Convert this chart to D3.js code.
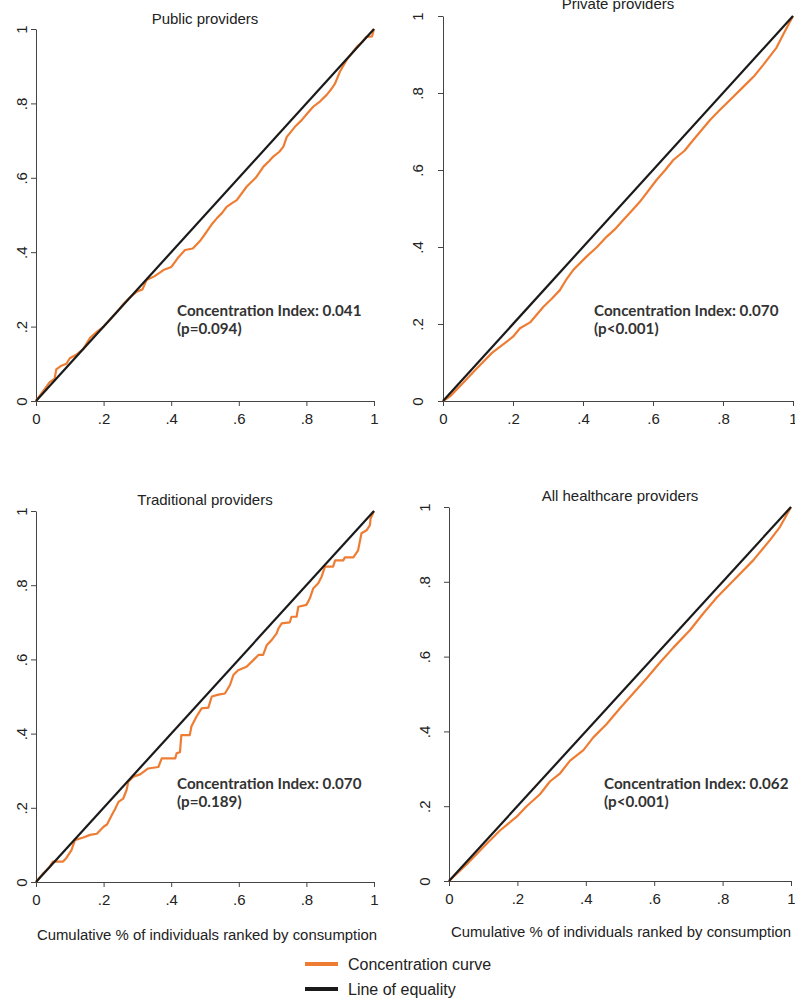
<!DOCTYPE html>
<html>
<head>
<meta charset="utf-8">
<script src="https://cdn.jsdelivr.net/npm/d3@7"></script>
<style>
  html, body { margin: 0; padding: 0; background: #fff; }
  svg { display: block; }
</style>
</head>
<body>
<svg id="chart" width="795" height="1000"></svg>
<script>
// ---------------- DATA ----------------
const panelTitles = ["Public providers", "Private providers", "Traditional providers", "All healthcare providers"];
const ciLabels = ["Concentration Index: 0.041", "Concentration Index: 0.070", "Concentration Index: 0.070", "Concentration Index: 0.062"];
const pLabels = ["(p=0.094)", "(p<0.001)", "(p=0.189)", "(p<0.001)"];
const tickValues = [0, 0.2, 0.4, 0.6, 0.8, 1];
const tickLabels = ["0", ".2", ".4", ".6", ".8", "1"];
const xAxisTitle = "Cumulative % of individuals ranked by consumption";
const legendLabels = ["Concentration curve", "Line of equality"];
const equalityX = [0, 1];
const equalityY = [0, 1];

// Public providers concentration curve
const publicX = [0, 0.02, 0.04, 0.055, 0.06, 0.075, 0.09, 0.1, 0.12, 0.14, 0.16, 0.18, 0.2, 0.22, 0.24, 0.26, 0.28, 0.298, 0.315, 0.327, 0.35, 0.377, 0.4, 0.42, 0.441, 0.464, 0.485, 0.505, 0.52, 0.535, 0.55, 0.564, 0.58, 0.594, 0.623, 0.65, 0.673, 0.69, 0.702, 0.72, 0.732, 0.742, 0.766, 0.786, 0.8, 0.82, 0.84, 0.86, 0.875, 0.885, 0.899, 0.919, 0.935, 0.949, 0.965, 0.978, 0.994, 1];
const publicY = [0, 0.025, 0.05, 0.06, 0.085, 0.095, 0.1, 0.115, 0.125, 0.14, 0.17, 0.186, 0.2, 0.22, 0.24, 0.262, 0.28, 0.294, 0.3, 0.325, 0.335, 0.352, 0.36, 0.385, 0.406, 0.41, 0.43, 0.455, 0.475, 0.491, 0.505, 0.522, 0.532, 0.54, 0.576, 0.6, 0.63, 0.645, 0.657, 0.67, 0.684, 0.71, 0.737, 0.755, 0.77, 0.791, 0.805, 0.823, 0.84, 0.854, 0.885, 0.917, 0.935, 0.952, 0.965, 0.979, 0.98, 1];

// Private providers concentration curve
const privateX = [0, 0.02, 0.055, 0.097, 0.14, 0.2, 0.22, 0.25, 0.287, 0.31, 0.334, 0.352, 0.372, 0.41, 0.44, 0.468, 0.49, 0.515, 0.54, 0.563, 0.61, 0.635, 0.658, 0.69, 0.715, 0.763, 0.79, 0.82, 0.868, 0.89, 0.915, 0.953, 0.972, 1];
const privateY = [0, 0.012, 0.045, 0.085, 0.125, 0.167, 0.189, 0.205, 0.245, 0.265, 0.288, 0.315, 0.34, 0.375, 0.4, 0.427, 0.445, 0.47, 0.495, 0.518, 0.574, 0.6, 0.626, 0.65, 0.678, 0.73, 0.755, 0.782, 0.825, 0.845, 0.873, 0.918, 0.952, 1];

// Traditional providers concentration curve (step-like)
const traditionalX = [0, 0.02, 0.04, 0.05, 0.08, 0.09, 0.105, 0.115, 0.14, 0.16, 0.18, 0.2, 0.21, 0.224, 0.234, 0.244, 0.258, 0.268, 0.273, 0.288, 0.308, 0.332, 0.362, 0.372, 0.412, 0.416, 0.426, 0.43, 0.455, 0.46, 0.475, 0.49, 0.51, 0.52, 0.54, 0.559, 0.574, 0.584, 0.598, 0.623, 0.643, 0.658, 0.672, 0.683, 0.697, 0.712, 0.717, 0.727, 0.751, 0.756, 0.771, 0.776, 0.8, 0.81, 0.82, 0.835, 0.845, 0.855, 0.879, 0.885, 0.909, 0.914, 0.939, 0.953, 0.963, 0.978, 0.988, 0.99, 1];
const traditionalY = [0, 0.022, 0.04, 0.055, 0.055, 0.065, 0.086, 0.113, 0.12, 0.127, 0.13, 0.149, 0.155, 0.18, 0.197, 0.216, 0.225, 0.248, 0.27, 0.284, 0.29, 0.306, 0.31, 0.333, 0.333, 0.347, 0.35, 0.396, 0.396, 0.42, 0.446, 0.468, 0.47, 0.5, 0.505, 0.508, 0.531, 0.558, 0.571, 0.58, 0.598, 0.612, 0.612, 0.639, 0.652, 0.67, 0.683, 0.697, 0.7, 0.715, 0.715, 0.742, 0.747, 0.764, 0.791, 0.805, 0.823, 0.85, 0.85, 0.867, 0.867, 0.875, 0.875, 0.894, 0.94, 0.948, 0.962, 0.98, 1];

// All healthcare providers concentration curve
const allX = [0, 0.052, 0.1, 0.149, 0.198, 0.227, 0.266, 0.295, 0.325, 0.354, 0.393, 0.422, 0.461, 0.5, 0.539, 0.578, 0.617, 0.656, 0.705, 0.744, 0.783, 0.831, 0.89, 0.939, 0.968, 1];
const allY = [0, 0.045, 0.09, 0.135, 0.172, 0.2, 0.232, 0.266, 0.288, 0.322, 0.35, 0.384, 0.42, 0.462, 0.502, 0.542, 0.584, 0.624, 0.671, 0.716, 0.758, 0.803, 0.858, 0.912, 0.947, 1];

const curveX = [publicX, privateX, traditionalX, allX];
const curveY = [publicY, privateY, traditionalY, allY];

// ---------------- LAYOUT ----------------
const layouts = [
  {left: 36, right: 374, top: 29, bottom: 401, titleY: 24, yLabOff: 9, ciX: 177, ciY: 316},
  {left: 443, right: 793, top: 16, bottom: 401, titleY: 9, yLabOff: 20, ciX: 594, ciY: 316},
  {left: 36, right: 374, top: 511, bottom: 882, titleY: 505, yLabOff: 9, ciX: 177, ciY: 789},
  {left: 449, right: 791, top: 507, bottom: 881, titleY: 501, yLabOff: 19, ciX: 604, ciY: 789}
];

const ORANGE = "#EE7D33";
const AXIS = "#444";
const svg = d3.select("#chart");
const font = "'Liberation Sans', Arial, sans-serif";
const boldFont = "Lato, 'Open Sans', sans-serif";

layouts.forEach((L, i) => {
  const x = d3.scaleLinear().domain([0, 1]).range([L.left, L.right]);
  const y = d3.scaleLinear().domain([0, 1]).range([L.bottom, L.top]);
  const g = svg.append("g");

  // x axis
  const xa = g.append("g").attr("transform", `translate(0,${L.bottom})`)
    .call(d3.axisBottom(x).tickValues(tickValues).tickSize(5).tickSizeOuter(0)
      .tickFormat((d, j) => tickLabels[j]));
  xa.select(".domain").attr("stroke", AXIS);
  xa.selectAll(".tick line").attr("stroke", AXIS);
  xa.selectAll(".tick text").attr("font-family", font).attr("font-size", 15)
    .attr("fill", "#222").attr("y", 12).attr("dy", "0.71em");

  // y axis
  const ya = g.append("g").attr("transform", `translate(${L.left},0)`)
    .call(d3.axisLeft(y).tickValues(tickValues).tickSize(5).tickSizeOuter(0)
      .tickFormat((d, j) => tickLabels[j]));
  ya.select(".domain").attr("stroke", AXIS);
  ya.selectAll(".tick line").attr("stroke", AXIS);
  ya.selectAll(".tick text")
    .attr("font-family", font).attr("font-size", 15).attr("fill", "#222")
    .attr("x", null).attr("dy", null)
    .attr("text-anchor", "middle")
    .attr("transform", `translate(${-L.yLabOff},0) rotate(-90)`);

  // concentration curve and equality line
  const pts = d3.zip(curveX[i], curveY[i]);
  const line = d3.line().x(d => x(d[0])).y(d => y(d[1]));
  g.append("path").datum(pts).attr("d", line)
    .attr("fill", "none").attr("stroke", ORANGE).attr("stroke-width", 2.2)
    .attr("stroke-linejoin", "round");
  g.append("path").datum(d3.zip(equalityX, equalityY)).attr("d", line)
    .attr("fill", "none").attr("stroke", "#1a1a1a").attr("stroke-width", 2.2);

  // title
  g.append("text").attr("x", (L.left + L.right) / 2).attr("y", L.titleY)
    .attr("text-anchor", "middle").attr("font-family", font).attr("font-size", 15)
    .attr("fill", "#222").text(panelTitles[i]);

  // annotation
  g.append("text").attr("x", L.ciX).attr("y", L.ciY)
    .attr("font-family", boldFont).attr("font-weight", "bold").attr("font-size", 15.2)
    .attr("fill", "#333").text(ciLabels[i]);
  g.append("text").attr("x", L.ciX).attr("y", L.ciY + 18)
    .attr("font-family", boldFont).attr("font-weight", "bold").attr("font-size", 15.2)
    .attr("fill", "#333").text(pLabels[i]);
});

// x axis titles
[{cx: 207, y: 940}, {cx: 621, y: 937}].forEach(t => {
  svg.append("text").attr("x", t.cx).attr("y", t.y).attr("text-anchor", "middle")
    .attr("font-family", font).attr("font-size", 14.9).attr("fill", "#222").text(xAxisTitle);
});

// legend
const legendColors = [ORANGE, "#1a1a1a"];
const legendY = [964, 989];
legendLabels.forEach((lab, k) => {
  svg.append("line").attr("x1", 305).attr("x2", 338).attr("y1", legendY[k]).attr("y2", legendY[k])
    .attr("stroke", legendColors[k]).attr("stroke-width", 4);
  svg.append("text").attr("x", 348).attr("y", legendY[k] + 6)
    .attr("font-family", font).attr("font-size", 16).attr("fill", "#222").text(lab);
});
</script>
</body>
</html>
